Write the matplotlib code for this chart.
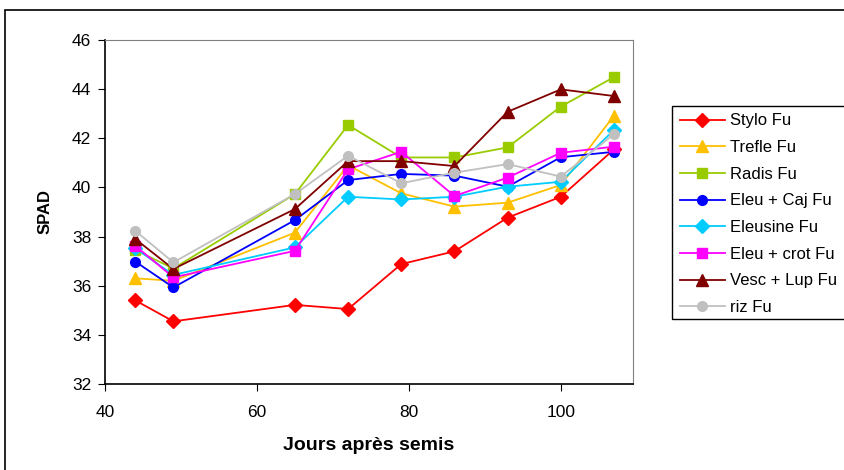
import matplotlib
matplotlib.use("Agg")
import matplotlib.pyplot as plt
from matplotlib.patches import Rectangle

days = [44, 49, 65, 72, 79, 86, 93, 100, 107]
stylo = [35.4, 34.55, 35.22, 35.05, 36.88, 37.4, 38.77, 39.62, 41.55]
trefle = [36.3, 36.2, 38.16, 40.9, 39.76, 39.22, 39.38, 40.1, 42.92]
radis = [37.45, 36.7, 39.73, 42.54, 41.22, 41.22, 41.63, 43.29, 44.49]
eleu_caj = [36.98, 35.93, 38.67, 40.3, 40.55, 40.48, 40.03, 41.23, 41.45]
eleusine = [37.52, 36.44, 37.56, 39.62, 39.51, 39.62, 40.03, 40.23, 42.34]
eleu_crot = [37.62, 36.34, 37.42, 40.74, 41.45, 39.65, 40.4, 41.41, 41.66]
vesc_lup = [37.9, 36.68, 39.12, 41.07, 41.07, 40.87, 43.08, 43.99, 43.72]
riz = [38.23, 36.95, 39.73, 41.29, 40.17, 40.6, 40.95, 40.44, 42.17]

series = [
    ("Stylo Fu", stylo, "#FF0000", "D", 7),
    ("Trefle Fu", trefle, "#FFC000", "^", 8.5),
    ("Radis Fu", radis, "#99CC00", "s", 7.5),
    ("Eleu + Caj Fu", eleu_caj, "#0000FF", "o", 7),
    ("Eleusine Fu", eleusine, "#00CCFF", "D", 7),
    ("Eleu + crot Fu", eleu_crot, "#FF00FF", "s", 7.5),
    ("Vesc + Lup Fu", vesc_lup, "#800000", "^", 8.5),
    ("riz Fu", riz, "#C0C0C0", "o", 7),
]

plt.rcParams['font.family'] = ['Liberation Sans', 'DejaVu Sans']

fig = plt.figure(figsize=(8.44, 4.70), dpi=100)
W, H = 844, 470
ax = fig.add_axes([105 / W, 1 - 384 / H, (633 - 105) / W, (384 - 40) / H])

# outer chart border
fig.patches.append(Rectangle((5 / W, -0.05), 1.2, 1 - 10 / H + 0.05, transform=fig.transFigure,
                             fill=False, edgecolor="black", linewidth=1.2, zorder=0))

for name, vals, col, mk, ms in series:
    ax.plot(days, vals, color=col, marker=mk, markersize=ms, linewidth=1.3,
            markeredgecolor=col, label=name)

ax.set_xlim(40, 109.5)
ax.set_ylim(32, 46)
ax.set_xticks([40, 60, 80, 100])
ax.set_yticks(range(32, 47, 2))
ax.tick_params(direction="out", length=5, labelsize=12.5, colors="black")
ax.tick_params(axis="x", pad=10)
ax.tick_params(axis="y", pad=5)
for s in ["top", "right"]:
    ax.spines[s].set_color("#808080")
for s in ["left", "bottom"]:
    ax.spines[s].set_color("black")
    ax.spines[s].set_linewidth(1.2)

ax.set_xlabel("Jours après semis", fontsize=14, fontweight="bold", labelpad=12)
ax.set_ylabel("SPAD", fontsize=12, fontweight="bold", labelpad=14)

# legend frame extends past the right edge as in the reference
fig.patches.append(Rectangle((672 / W, 1 - 319 / H), (860 - 672) / W, (319 - 106) / H,
                             transform=fig.transFigure, fill=False, edgecolor="black",
                             linewidth=1.0, zorder=5))
leg = fig.legend(loc="upper left", bbox_to_anchor=(672 / W, 1 - 106 / H), frameon=False,
                 fontsize=12, handlelength=2.7, labelspacing=0.7, borderpad=0.45,
                 borderaxespad=0, handletextpad=0.3)

fig.savefig("out.png", dpi=100, facecolor="white")
